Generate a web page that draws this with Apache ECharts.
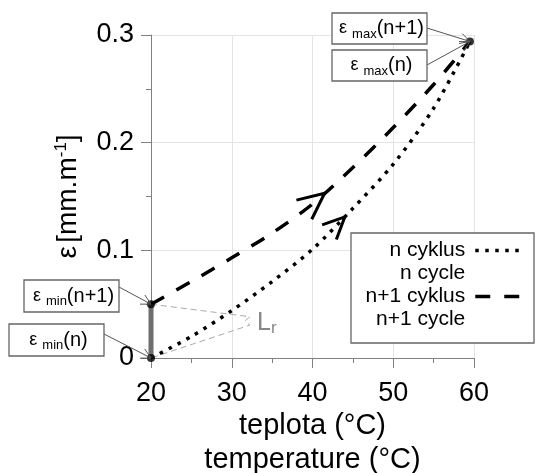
<!DOCTYPE html>
<html><head><meta charset="utf-8">
<script src="https://cdn.jsdelivr.net/npm/echarts@6/dist/echarts.min.js"></script>
<style>html,body{margin:0;padding:0;background:#fff}#c{width:535px;height:473px}</style>
</head><body><div id="c"></div>
<script>
// ---- data ----
const temperatureN = [20, 25, 30, 35, 40, 45, 50, 55, 59.5];
const strainN = [0, 0.020, 0.044, 0.071, 0.101, 0.139, 0.180, 0.232, 0.294];
const temperatureN1 = [20, 25, 30, 35, 40, 45, 50, 55, 59.5];
const strainN1 = [0.050, 0.071, 0.093, 0.116, 0.143, 0.177, 0.214, 0.254, 0.294];
const seriesNames = ['n cyklus', 'n+1 cyklus'];
const seriesNamesEn = ['n cycle', 'n+1 cycle'];
const xTickValues = [20, 30, 40, 50, 60];
const yTickValues = [0, 0.1, 0.2, 0.3];
const residualBarX = [20, 20];
const residualBarY = [0, 0.05];
const lrBracketX = [20, 32.26, 31.64, 32.26, 20];
const lrBracketY = [0.05, 0.0383, 0.0344, 0.0306, 0];
const arrowTipX = [41.5, 44.0];
const arrowTipY = [0.153, 0.131];
const arrowBackX = [38, 41];
const arrowBackY = [0.132, 0.109];
const keyPointX = [20, 20, 59.5];
const keyPointY = [0, 0.05, 0.294];
const annotSub = ['max', 'max', 'min', 'min'];
const annotArg = ['(n+1)', '(n)', '(n+1)', '(n)'];
const annotTargetX = [59.5, 59.5, 20, 20];
const annotTargetY = [0.294, 0.294, 0.05, 0];
const xAxisName = ['teplota (°C)', 'temperature (°C)'];

// ---- layout / style ----
const FONT = '"Liberation Sans", Arial, sans-serif';
const annotBoxes = [ // x, y, w, h, leader start y
  [332, 13, 95, 31, 28],
  [332, 50, 95, 31, 65],
  [24, 280, 95, 32, 287],
  [9, 324, 95, 32, 334]
];
const zip = (a, b) => a.map((v, i) => [v, b[i]]);

const option = {
  animation: false,
  backgroundColor: '#fff',
  textStyle: { fontFamily: FONT },
  grid: { left: 151, right: 61, top: 35, bottom: 115, containLabel: false, outerBoundsMode: 'none' },
  legend: {
    orient: 'vertical', align: 'right', right: 10, top: 216, padding: 0,
    itemGap: -23, itemWidth: 48, itemHeight: 14,
    data: seriesNames,
    itemStyle: { color: 'rgba(0,0,0,0)', borderWidth: 0, opacity: 0 },
    lineStyle: { width: 3.5 },
    formatter: name => ' \n' + name + '\n' + seriesNamesEn[seriesNames.indexOf(name)],
    textStyle: { fontSize: 21, lineHeight: 23, color: '#000', fontFamily: FONT, align: 'right', padding: [0, 5, 0, 0] }
  },
  xAxis: {
    type: 'value', min: xTickValues[0], max: xTickValues[xTickValues.length - 1], interval: 10,
    name: xAxisName.join('\n'), nameLocation: 'middle', nameGap: 51, nameMoveOverlap: false,
    nameTextStyle: { fontSize: 29, lineHeight: 34, color: '#000', fontFamily: FONT },
    axisLine: { show: true, lineStyle: { color: '#808080', width: 1 } },
    axisTick: { show: true, length: 10, lineStyle: { color: '#808080' } },
    minorTick: { show: true, splitNumber: 2, length: 5, lineStyle: { color: '#808080' } },
    axisLabel: { fontSize: 27, color: '#000', margin: 22, fontFamily: FONT },
    splitLine: { show: true, lineStyle: { color: '#e4e4e4', width: 1 } }
  },
  yAxis: {
    type: 'value', min: yTickValues[0], max: yTickValues[yTickValues.length - 1], interval: 0.1,
    name: '{e|ε} {t|[mm.m}{s|-1}{t|]}', nameLocation: 'middle', nameGap: 68, nameMoveOverlap: false,
    nameTextStyle: {
      color: '#000', fontFamily: FONT,
      rich: {
        e: { fontSize: 28, fontFamily: FONT, color: '#000', lineHeight: 30 },
        t: { fontSize: 28, fontFamily: FONT, color: '#000', lineHeight: 30 },
        s: { fontSize: 17, fontFamily: FONT, color: '#000', verticalAlign: 'top', lineHeight: 30 }
      }
    },
    axisLine: { show: true, lineStyle: { color: '#808080', width: 1 } },
    axisTick: { show: true, length: 10, lineStyle: { color: '#808080' } },
    minorTick: { show: true, splitNumber: 2, length: 5, lineStyle: { color: '#808080' } },
    axisLabel: { fontSize: 27, color: '#000', margin: 17, fontFamily: FONT },
    splitLine: { show: true, lineStyle: { color: '#e4e4e4', width: 1 } }
  },
  series: [
    {
      name: seriesNames[0], type: 'line', data: zip(temperatureN, strainN), smooth: 0.3,
      symbol: 'none', z: 3,
      lineStyle: { color: '#000', width: 3.5, type: [3.5, 6.5], cap: 'butt' },
      itemStyle: { color: '#000' }
    },
    {
      name: seriesNames[1], type: 'line', data: zip(temperatureN1, strainN1), smooth: 0.3,
      symbol: 'none', z: 3,
      lineStyle: { color: '#000', width: 3.5, type: [15, 14], cap: 'butt' },
      itemStyle: { color: '#000' }
    },
    {
      name: 'Lr', type: 'line', data: zip(lrBracketX, lrBracketY), symbol: 'none', z: 2,
      lineStyle: { color: '#aaaaaa', width: 1, type: [6, 4] }, silent: true
    },
    {
      name: 'residual', type: 'line', data: zip(residualBarX, residualBarY), symbol: 'none', z: 4,
      lineStyle: { color: '#6e6e6e', width: 5 }, silent: true
    },
    {
      name: 'arrows', type: 'custom', z: 5, silent: true,
      data: arrowTipX.map((x, i) => [x, arrowTipY[i], arrowBackX[i], arrowBackY[i], i === 0 ? 29 : 24]),
      renderItem: function (params, api) {
        const tip = api.coord([api.value(0), api.value(1)]);
        const back = api.coord([api.value(2), api.value(3)]);
        const len = api.value(4);
        let dx = back[0] - tip[0], dy = back[1] - tip[1];
        const d = Math.hypot(dx, dy); dx /= d; dy /= d;
        const a = 25 * Math.PI / 180;
        const rot = (ang) => [tip[0] + len * (dx * Math.cos(ang) - dy * Math.sin(ang)),
                              tip[1] + len * (dx * Math.sin(ang) + dy * Math.cos(ang))];
        return {
          type: 'polyline',
          shape: { points: [rot(a), tip, rot(-a)] },
          style: { stroke: '#000', lineWidth: 3, fill: null, lineJoin: 'miter' }
        };
      }
    },
    {
      name: 'points', type: 'scatter', data: zip(keyPointX, keyPointY), symbolSize: 8, z: 6,
      itemStyle: { color: '#000' }, silent: true
    }
  ]
};

const chart = echarts.init(document.getElementById('c'), null, { renderer: 'canvas' });
chart.setOption(option);

const toPx = (x, y) => chart.convertToPixel({ gridIndex: 0 }, [x, y]);
const graphics = [];
// legend frame
graphics.push({ type: 'rect', z: 3, shape: { x: 351, y: 233, width: 183, height: 110 },
  style: { fill: '#fff', stroke: '#666', lineWidth: 1.3 } });
// Lr label
graphics.push({ type: 'text', z: 10, x: 257, y: 309,
  style: { text: '{L|L}{r|r}', rich: {
    L: { fontSize: 25, fill: '#888', fontFamily: FONT, lineHeight: 28 },
    r: { fontSize: 17, fill: '#888', fontFamily: FONT, verticalAlign: 'bottom', lineHeight: 28, padding: [10, 0, 0, 0] } } } });
// annotations
annotBoxes.forEach((b, i) => {
  const [bx, by, bw, bh, sy] = b;
  const t = toPx(annotTargetX[i], annotTargetY[i]);
  const s = [bx + bw, sy];
  let dx = s[0] - t[0], dy = s[1] - t[1];
  const d = Math.hypot(dx, dy); dx /= d; dy /= d;
  const a = 28 * Math.PI / 180, L = 11;
  const rot = (ang) => [t[0] + L * (dx * Math.cos(ang) - dy * Math.sin(ang)),
                        t[1] + L * (dx * Math.sin(ang) + dy * Math.cos(ang))];
  graphics.push({ type: 'polyline', z: 9, shape: { points: [s, t] },
    style: { stroke: '#555', lineWidth: 1, fill: null } });
  graphics.push({ type: 'polyline', z: 9, shape: { points: [rot(a), t, rot(-a)] },
    style: { stroke: '#555', lineWidth: 1, fill: null } });
  graphics.push({ type: 'rect', z: 10, shape: { x: bx, y: by, width: bw, height: bh },
    style: { fill: '#fff', stroke: '#666', lineWidth: 1.3 } });
  graphics.push({ type: 'text', z: 11, x: bx + bw / 2 + 2, y: by + bh / 2,
    style: { text: '{e|ε }{s|' + annotSub[i] + '}{a|' + annotArg[i] + '}',
      align: 'center', verticalAlign: 'middle',
      rich: {
        e: { fontSize: 18, fill: '#000', fontFamily: FONT, lineHeight: 24 },
        s: { fontSize: 13, fill: '#000', fontFamily: FONT, verticalAlign: 'bottom', lineHeight: 24, padding: [6, 0, 0, 0] },
        a: { fontSize: 20, fill: '#000', fontFamily: FONT, lineHeight: 24 }
      } } });
});
chart.setOption({ graphic: graphics });
</script>
</body></html>
